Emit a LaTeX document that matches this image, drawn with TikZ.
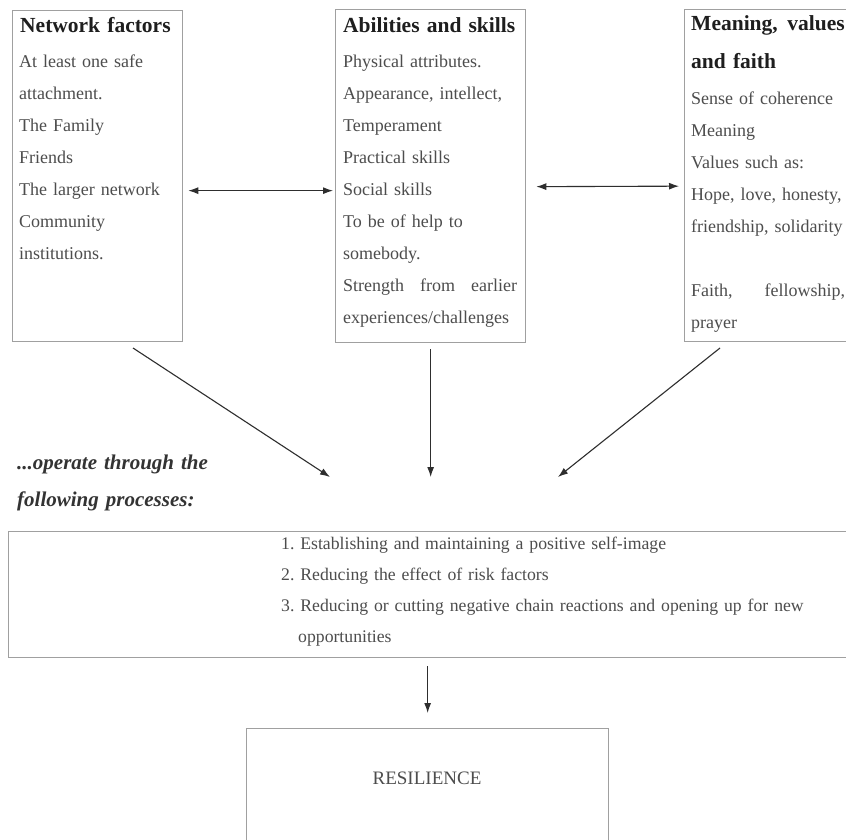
\documentclass[tikz,border=0pt]{standalone}
\usepackage{fontspec}
\setmainfont{Liberation Serif}
\usetikzlibrary{arrows.meta}
\definecolor{boxgray}{HTML}{A0A0A0}
\definecolor{txtgray}{HTML}{4D4D4D}
\definecolor{hdgray}{HTML}{1E1E1E}
\definecolor{arrgray}{HTML}{2E2E2E}
\definecolor{itgray}{HTML}{333333}
\frenchspacing
\begin{document}
\begin{tikzpicture}[x=1pt,y=-1pt,
  box/.style={draw=boxgray, line width=1.3pt, inner sep=0pt, anchor=north west},
  hdtext/.style={anchor=base west, inner sep=0pt, text=hdgray, align=left, text width=250pt,
    font=\fontsize{21.5}{38}\selectfont\bfseries},
  bdtext/.style={anchor=base west, inner sep=0pt, text=txtgray, align=left, text width=250pt,
    font=\fontsize{18}{32}\selectfont},
  arr/.style={draw=arrgray, line width=1.1pt, -{Latex[length=10pt,width=7pt]}},
  dbl/.style={draw=arrgray, line width=1.1pt, {Latex[length=10pt,width=7pt]}-{Latex[length=10pt,width=7pt]}}
]
\useasboundingbox (0,0) rectangle (846,839);
\clip (0,0) rectangle (846,839);
\fill[white] (0,0) rectangle (846,839);

% top boxes
\node[box, minimum width=170pt, minimum height=331pt] (nf) at (12,10) {};
\node[hdtext] (nfh) at (20,32) {Network factors};
\node[bdtext] (nfb) at (19,67) {At least one safe\\attachment.\\The Family\\Friends\\The larger network\\Community\\institutions.};

\node[box, minimum width=190pt, minimum height=333pt] (ab) at (335,9) {};
\node[hdtext] (abh) at (343,32) {Abilities and skills};
\node[bdtext] (abb) at (343,67) {Physical attributes.\\Appearance, intellect,\\Temperament\\Practical skills\\Social skills\\To be of help to\\somebody.\\\makebox[174pt][l]{Strength\hfill from\hfill earlier}\\experiences/challenges};

\node[box, minimum width=180pt, minimum height=332pt] (mv) at (684,9) {};
\node[hdtext] (mvh) at (691,30) {Meaning,\hspace{0.45em}values\\and faith};
\node[bdtext] (mvb) at (691,104) {Sense of coherence\\Meaning\\Values such as:\\Hope, love, honesty,\\friendship, solidarity\\[32pt]\makebox[154pt][l]{Faith,\hfill fellowship,}\\prayer};

% connectors between top boxes
\draw[dbl] ([xshift=5pt,yshift=-14.5pt]nf.east) -- ([xshift=-2pt,yshift=-14.5pt]ab.west);
\draw[dbl] ([xshift=10pt,yshift=-10.5pt]ab.east) -- ([xshift=-5pt,yshift=-10.5pt]mv.west);

% arrows down to processes
\coordinate (a1s) at (133,348);
\coordinate (a1e) at (330,477);
\coordinate (a3s) at (720,348);
\coordinate (a3e) at (558,477);
\draw[arr] (a1s) -- (a1e);
\draw[arr, shorten <=6pt] (ab.south) -- (ab.south |- a1e);
\draw[arr] (a3s) -- (a3e);

% italic caption
\node[anchor=base west, inner sep=0pt, text=itgray, align=left, text width=300pt,
  font=\fontsize{21}{37}\selectfont\bfseries\itshape] (op) at (17,469)
  {...operate through the\\following processes:};

% process box
\node[box, minimum width=860pt, minimum height=126pt] (pr) at (8,531) {};
\node[anchor=base west, inner sep=0pt, text=txtgray, align=left, text width=560pt,
  font=\fontsize{17.7}{31}\selectfont] (prt) at (281,549)
  {1. Establishing and maintaining a positive self-image\\2. Reducing the effect of risk factors\\3. Reducing or cutting negative chain reactions and opening up for new\\\hspace*{17pt}opportunities};

% resilience
\node[box, minimum width=362pt, minimum height=140pt] (res) at (246,728) {};
\node[inner sep=0pt, text=txtgray, font=\fontsize{19}{23}\selectfont] (rest) at (427,778) {RESILIENCE};
\draw[arr, shorten <=8pt, shorten >=15pt] (res.north |- pr.south) -- (res.north);
\end{tikzpicture}
\end{document}
